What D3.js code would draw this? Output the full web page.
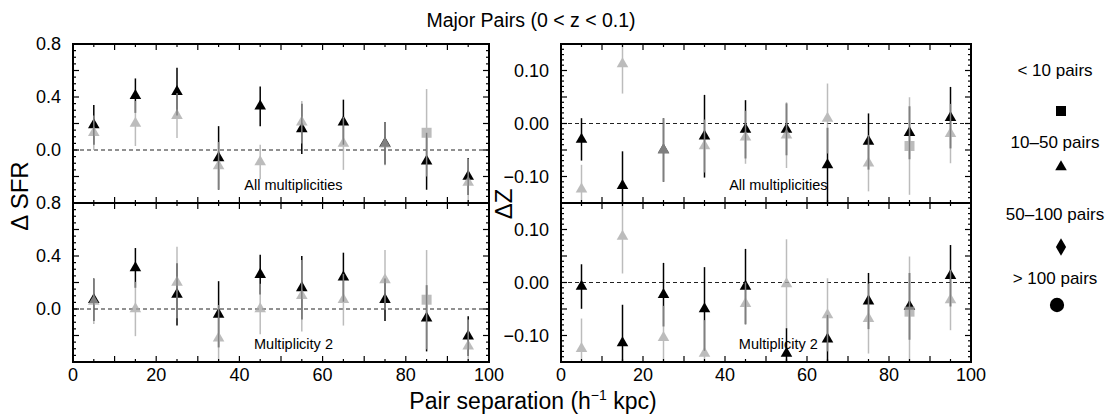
<!DOCTYPE html>
<html>
<head>
<meta charset="utf-8">
<script src="https://cdn.jsdelivr.net/npm/d3@7/dist/d3.min.js"></script>
<style>
  body { margin: 0; background: #fff; }
  svg { font-family: "Liberation Sans", Arial, sans-serif; }
</style>
</head>
<body>
<svg id="chart" width="1112" height="416"></svg>
<script>
// pair separation bins (h^-1 kpc)
const separation = [5, 15, 25, 35, 45, 55, 65, 75, 85, 95];

// Delta SFR, all multiplicities
const sfrAllBlack    = [0.19, 0.41, 0.44, -0.06, 0.33, 0.16, 0.21, 0.05, -0.085, -0.20];
const sfrAllBlackErr = [0.15, 0.13, 0.18, 0.24, 0.15, 0.19, 0.17, 0.16, 0.215, 0.14];
const sfrAllGray     = [0.13, 0.20, 0.26, -0.12, -0.09, 0.21, 0.05, 0.045, 0.13, -0.245];
const sfrAllGrayErr  = [0.13, 0.17, 0.17, 0.18, 0.13, 0.16, 0.20, 0.16, 0.33, 0.18];

// Delta SFR, multiplicity 2
const sfrM2Black     = [0.07, 0.31, 0.11, -0.04, 0.26, 0.16, 0.24, 0.07, -0.07, -0.205];
const sfrM2BlackErr  = [0.16, 0.15, 0.235, 0.25, 0.15, 0.24, 0.185, 0.16, 0.25, 0.15];
const sfrM2Gray      = [0.057, 0.0, 0.20, -0.22, 0.0, 0.10, 0.07, 0.22, 0.07, -0.28];
const sfrM2GrayErr   = [0.17, 0.205, 0.27, 0.25, 0.19, 0.27, 0.195, 0.225, 0.375, 0.2];

// Delta Z, all multiplicities
const zAllBlack      = [-0.030, -0.1175, -0.05, -0.024, -0.011, -0.011, -0.078, -0.034, -0.0175, 0.011];
const zAllBlackErr   = [0.04, 0.065, 0.06, 0.078, 0.055, 0.049, 0.07, 0.053, 0.05, 0.058];
const zAllGray       = [-0.124, 0.1125, -0.05, -0.0425, -0.026, -0.022, 0.0094, -0.075, -0.0425, -0.019];
const zAllGrayErr    = [0.046, 0.056, 0.06, 0.05, 0.05, 0.062, 0.066, 0.053, 0.092, 0.056];

// Delta Z, multiplicity 2
const zM2Black       = [-0.0076, -0.114, -0.023, -0.05, -0.0076, -0.134, -0.107, -0.035, -0.045, 0.0127];
const zM2BlackErr    = [0.042, 0.072, 0.06, 0.079, 0.071, 0.048, 0.046, 0.053, 0.063, 0.058];
const zM2Gray        = [-0.125, 0.087, -0.104, -0.134, -0.04, -0.0025, -0.061, -0.068, -0.055, -0.033];
const zM2GrayErr     = [0.057, 0.07, 0.06, 0.063, 0.04, 0.084, 0.069, 0.066, 0.104, 0.057];

// marker shape of the grey series (number of pairs class)
const grayShapes = ['tri', 'tri', 'tri', 'tri', 'tri', 'tri', 'tri', 'tri', 'sq', 'tri'];

const legendLabels = ['< 10 pairs', '10\u201350 pairs', '50\u2013100 pairs', '> 100 pairs'];
const legendShapes = ['sq', 'tri', 'dia', 'circ'];

const svg = d3.select('#chart');
const ink = '#000';
const grayFill = '#a8a8a8';
const grayAlpha = 0.76;

const symbolFor = {
    tri: d3.symbol().type(d3.symbolTriangle).size(58),
    sq: d3.symbol().type(d3.symbolSquare).size(100),
    dia: d3.symbol().type(d3.symbolDiamond).size(90),
    circ: d3.symbol().type(d3.symbolCircle).size(160)
};

const fmtMinus = s => s.replace('-', '\u2212');

const panels = [
    { x0: 73, x1: 489, y0: 44, y1: 203, domain: [-0.4, 0.8], major: 0.2, minor: 0.05,
      labels: [0.8, 0.4, 0.0], fmt: d3.format('.1f'), label: 'All multiplicities',
      black: sfrAllBlack, blackErr: sfrAllBlackErr, gray: sfrAllGray, grayErr: sfrAllGrayErr, xLabels: false },
    { x0: 73, x1: 489, y0: 203, y1: 362, domain: [-0.4, 0.8], major: 0.2, minor: 0.05,
      labels: [0.8, 0.4, 0.0], fmt: d3.format('.1f'), label: 'Multiplicity 2',
      black: sfrM2Black, blackErr: sfrM2BlackErr, gray: sfrM2Gray, grayErr: sfrM2GrayErr, xLabels: true },
    { x0: 561, x1: 971, y0: 44, y1: 203, domain: [-0.15, 0.15], major: 0.05, minor: 0.01,
      labels: [0.10, 0.0, -0.10], fmt: d3.format('.2f'), label: 'All multiplicities',
      black: zAllBlack, blackErr: zAllBlackErr, gray: zAllGray, grayErr: zAllGrayErr, xLabels: false },
    { x0: 561, x1: 971, y0: 203, y1: 362, domain: [-0.15, 0.15], major: 0.05, minor: 0.01,
      labels: [0.10, 0.0, -0.10], fmt: d3.format('.2f'), label: 'Multiplicity 2',
      black: zM2Black, blackErr: zM2BlackErr, gray: zM2Gray, grayErr: zM2GrayErr, xLabels: true }
];

function steps(lo, hi, step) {
    const out = [];
    const n = Math.round((hi - lo) / step);
    for (let i = 0; i <= n; i++) out.push(+(lo + i * step).toFixed(4));
    return out;
}

panels.forEach((p, i) => {
    const x = d3.scaleLinear().domain([0, 100]).range([p.x0, p.x1]);
    const y = d3.scaleLinear().domain(p.domain).range([p.y1, p.y0]);
    const g = svg.append('g');

    g.append('clipPath').attr('id', 'clip' + i)
        .append('rect')
        .attr('x', p.x0).attr('y', p.y0)
        .attr('width', p.x1 - p.x0).attr('height', p.y1 - p.y0);

    // zero line
    g.append('line')
        .attr('x1', p.x0).attr('x2', p.x1)
        .attr('y1', y(0)).attr('y2', y(0))
        .attr('stroke', '#222').attr('stroke-width', 1)
        .attr('stroke-dasharray', '4,3');

    const plot = g.append('g').attr('clip-path', `url(#clip${i})`);

    // black series
    const bk = plot.append('g');
    bk.selectAll('line').data(separation).join('line')
        .attr('x1', d => x(d)).attr('x2', d => x(d))
        .attr('y1', (d, j) => y(p.black[j] + p.blackErr[j]))
        .attr('y2', (d, j) => y(p.black[j] - p.blackErr[j]))
        .attr('stroke', ink).attr('stroke-width', 1.5);
    bk.selectAll('path').data(separation).join('path')
        .attr('d', symbolFor.tri())
        .attr('transform', (d, j) => `translate(${x(d)},${y(p.black[j])})`)
        .attr('fill', ink);

    // grey series, partly transparent over the black one
    const gr = plot.append('g').attr('opacity', grayAlpha);
    gr.selectAll('line').data(separation).join('line')
        .attr('x1', d => x(d)).attr('x2', d => x(d))
        .attr('y1', (d, j) => y(p.gray[j] + p.grayErr[j]))
        .attr('y2', (d, j) => y(p.gray[j] - p.grayErr[j]))
        .attr('stroke', grayFill).attr('stroke-width', 1.5);
    gr.selectAll('path').data(separation).join('path')
        .attr('d', (d, j) => symbolFor[grayShapes[j]]())
        .attr('transform', (d, j) => `translate(${x(d)},${y(p.gray[j])})`)
        .attr('fill', grayFill);

    // ticks on all four sides
    const xMinor = steps(0, 100, 5);
    const yMinor = steps(p.domain[0], p.domain[1], p.minor);
    const isMajorX = v => v % 10 === 0;
    const isMajorY = v => Math.abs(v / p.major - Math.round(v / p.major)) < 1e-6;
    const tk = g.append('g').attr('stroke', ink).attr('stroke-width', 1.2);
    xMinor.forEach(v => {
        const len = isMajorX(v) ? 6 : 3;
        tk.append('line').attr('x1', x(v)).attr('x2', x(v)).attr('y1', p.y1).attr('y2', p.y1 - len);
        tk.append('line').attr('x1', x(v)).attr('x2', x(v)).attr('y1', p.y0).attr('y2', p.y0 + len);
    });
    yMinor.forEach(v => {
        const len = isMajorY(v) ? 6 : 3;
        tk.append('line').attr('y1', y(v)).attr('y2', y(v)).attr('x1', p.x0).attr('x2', p.x0 + len);
        tk.append('line').attr('y1', y(v)).attr('y2', y(v)).attr('x1', p.x1).attr('x2', p.x1 - len);
    });

    // frame
    g.append('rect')
        .attr('x', p.x0).attr('y', p.y0)
        .attr('width', p.x1 - p.x0).attr('height', p.y1 - p.y0)
        .attr('fill', 'none').attr('stroke', ink).attr('stroke-width', 2);

    // y tick labels
    g.selectAll('text.ylab').data(p.labels).join('text')
        .attr('class', 'ylab')
        .attr('x', p.x0 - 12).attr('y', d => y(d))
        .attr('dy', '0.35em')
        .attr('text-anchor', 'end')
        .attr('font-size', 18)
        .text(d => fmtMinus(p.fmt(d)));

    if (p.xLabels) {
        g.selectAll('text.xlab').data([0, 20, 40, 60, 80, 100]).join('text')
            .attr('class', 'xlab')
            .attr('x', d => x(d)).attr('y', p.y1 + 19)
            .attr('text-anchor', 'middle')
            .attr('font-size', 18)
            .text(d => d);
    }

    g.append('text')
        .attr('x', x(53)).attr('y', p.y1 - 13)
        .attr('text-anchor', 'middle')
        .attr('font-size', 14.5)
        .text(p.label);
});

// titles
svg.append('text')
    .attr('x', 531).attr('y', 27)
    .attr('text-anchor', 'middle')
    .attr('font-size', 19.5)
    .text('Major Pairs (0 < z < 0.1)');

const xt = svg.append('text')
    .attr('x', 533).attr('y', 409)
    .attr('text-anchor', 'middle')
    .attr('font-size', 23);
xt.append('tspan').text('Pair separation (h');
xt.append('tspan').attr('dy', -9).attr('font-size', 14).text('\u22121');
xt.append('tspan').attr('dy', 9).text(' kpc)');

svg.append('text')
    .attr('transform', 'translate(28,196) rotate(-90)')
    .attr('text-anchor', 'middle')
    .attr('font-size', 24)
    .text('\u0394 SFR');

svg.append('text')
    .attr('transform', 'translate(512,204) rotate(-90)')
    .attr('text-anchor', 'middle')
    .attr('font-size', 24)
    .text('\u0394Z');

// legend
const legendTextY = [76, 148, 220, 284];
const legendMarkY = [111, 167, 247, 305];
const legend = svg.append('g');
legendLabels.forEach((t, j) => {
    legend.append('text')
        .attr('x', 1055).attr('y', legendTextY[j])
        .attr('text-anchor', 'middle')
        .attr('font-size', 17)
        .text(t);
    legend.append('path')
        .attr('d', symbolFor[legendShapes[j]]())
        .attr('transform', `translate(${j === 3 ? 1057 : 1061},${legendMarkY[j]})`)
        .attr('fill', ink);
});
</script>
</body>
</html>
